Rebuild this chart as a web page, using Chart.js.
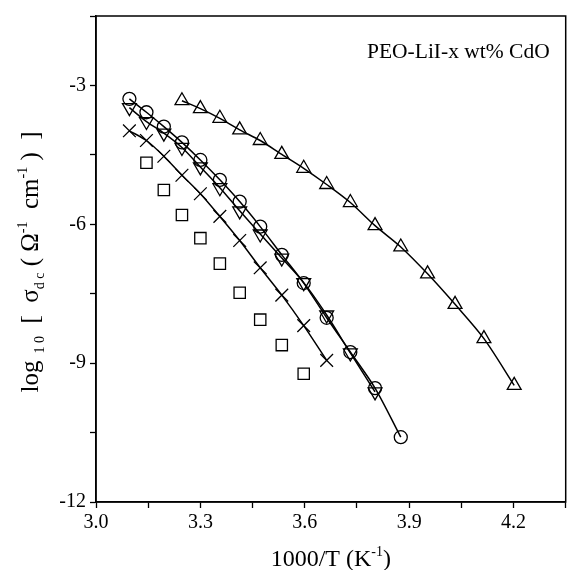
<!DOCTYPE html>
<html><head><meta charset="utf-8">
<script src="https://cdn.jsdelivr.net/npm/chart.js@4.4.0/dist/chart.umd.min.js"></script>
<style>html,body{margin:0;padding:0;background:#fff;}</style>
</head><body>
<canvas id="c" width="576" height="570" style="width:576px;height:570px;display:block"></canvas>
<script>
// ---- data (1000/T in K^-1, log10 sigma_dc) ----
const circleX = [3.096,3.145,3.195,3.247,3.300,3.356,3.413,3.472,3.534,3.597,3.663,3.731,3.802,3.876];
const circleY = [-3.29,-3.58,-3.89,-4.23,-4.61,-5.04,-5.51,-6.05,-6.66,-7.27,-8.02,-8.76,-9.54,-10.60];
const downX = [3.096,3.145,3.195,3.247,3.300,3.356,3.413,3.472,3.534,3.597,3.663,3.731,3.802];
const downY = [-3.48,-3.78,-4.03,-4.34,-4.76,-5.21,-5.71,-6.21,-6.73,-7.26,-7.96,-8.78,-9.62];
const upX = [3.247,3.300,3.356,3.413,3.472,3.534,3.597,3.663,3.731,3.802,3.876,3.953,4.032,4.115,4.202];
const upY = [-3.33,-3.50,-3.71,-3.96,-4.19,-4.49,-4.79,-5.14,-5.53,-6.03,-6.49,-7.07,-7.73,-8.47,-9.48];
const crossX = [3.096,3.145,3.195,3.247,3.300,3.356,3.413,3.472,3.534,3.597,3.663];
const crossY = [-3.98,-4.19,-4.53,-4.94,-5.34,-5.83,-6.35,-6.94,-7.53,-8.19,-8.94];
const squareX = [3.145,3.195,3.247,3.300,3.356,3.413,3.472,3.534,3.597];
const squareY = [-4.67,-5.26,-5.80,-6.30,-6.85,-7.48,-8.06,-8.61,-9.23];

const xTickValues = [3.0,3.15,3.3,3.45,3.6,3.75,3.9,4.05,4.2,4.35];
const xTickLabels = ['3.0','','3.3','','3.6','','3.9','','4.2',''];
const yTickValues = [-12,-10.5,-9,-7.5,-6,-4.5,-3,-1.5];
const yTickLabels = ['-12','','-9','','-6','','-3',''];
const annotation = 'PEO-LiI-x wt% CdO';

const SERIF = '"Liberation Serif", "DejaVu Serif", serif';
const pts = (xs, ys) => xs.map((x, i) => ({x: x, y: ys[i]}));

function ds(xs, ys, style, r, line, rot) {
  return {
    data: pts(xs, ys), showLine: line, pointStyle: style, pointRadius: r,
    pointRotation: rot || 0, borderColor: '#000', backgroundColor: 'rgba(0,0,0,0)',
    pointBorderColor: '#000', pointBackgroundColor: 'rgba(0,0,0,0)',
    pointBorderWidth: 1.3, borderWidth: 1.5, tension: 0.3, fill: false
  };
}

function drawRich(ctx, segs, x, y) {
  let total = 0;
  segs.forEach(s => { ctx.font = s.size + 'px ' + SERIF; total += ctx.measureText(s.t).width; });
  let cx = x - total / 2;
  segs.forEach(s => {
    ctx.font = s.size + 'px ' + SERIF;
    ctx.fillText(s.t, cx, y + (s.dy || 0));
    cx += ctx.measureText(s.t).width;
  });
}

const decor = {
  id: 'decor',
  afterDraw(chart) {
    const ctx = chart.ctx, a = chart.chartArea;
    ctx.save();
    ctx.strokeStyle = '#000'; ctx.lineWidth = 1.5;
    ctx.strokeRect(a.left, a.top, a.right - a.left, a.bottom - a.top);
    ctx.fillStyle = '#000'; ctx.textBaseline = 'alphabetic';
    // annotation
    ctx.font = '21.5px ' + SERIF; ctx.textAlign = 'right';
    ctx.fillText(annotation, a.right - 16, a.top + 42);
    ctx.textAlign = 'left';
    // x title
    drawRich(ctx, [
      {t: '1000/T (K', size: 24}, {t: '-1', size: 14, dy: -10}, {t: ')', size: 24}
    ], (a.left + a.right) / 2, 566);
    // y title
    ctx.translate(38, 262);
    ctx.rotate(-Math.PI / 2);
    drawRich(ctx, [
      {t: 'log', size: 25}, {t: '  1 0', size: 14, dy: 6}, {t: '  [  σ', size: 25},
      {t: 'd c', size: 14, dy: 6}, {t: ' ( Ω', size: 25}, {t: '-1', size: 14, dy: -11},
      {t: '  cm', size: 25}, {t: '-1', size: 14, dy: -11}, {t: ' )  ]', size: 25}
    ], 0, 0);
    ctx.restore();
  }
};

new Chart(document.getElementById('c'), {
  type: 'scatter',
  data: { datasets: [
    ds(circleX, circleY, 'circle', 6.5, true),
    ds(downX, downY, 'triangle', 8, true, 180),
    ds(upX, upY, 'triangle', 8, true),
    ds(crossX, crossY, 'crossRot', 9, true),
    ds(squareX, squareY, 'rect', 8, false)
  ]},
  options: {
    responsive: false, animation: false, devicePixelRatio: 1,
    layout: { padding: { top: 10, right: 3, left: 0, bottom: 0 } },
    plugins: { legend: { display: false }, tooltip: { enabled: false } },
    scales: {
      x: {
        type: 'linear', min: 3.0, max: 4.35,
        afterBuildTicks: s => { s.ticks = xTickValues.map(v => ({value: v})); },
        afterFit: s => { s.height = 68; },
        ticks: { autoSkip: false, maxRotation: 0, padding: 3, color: '#000',
          font: { family: SERIF, size: 20 },
          callback: (v, i) => xTickLabels[i] },
        grid: { drawOnChartArea: false, drawTicks: true, tickLength: 6, tickColor: '#000', tickWidth: 1.3 },
        border: { display: true, color: '#000', width: 1.5 }
      },
      y: {
        type: 'linear', min: -12, max: -1.5,
        afterBuildTicks: s => { s.ticks = yTickValues.map(v => ({value: v})); },
        afterFit: s => { s.width = 96; },
        ticks: { autoSkip: false, padding: 4, color: '#000',
          font: { family: SERIF, size: 20 },
          callback: (v, i) => yTickLabels[i] },
        grid: { drawOnChartArea: false, drawTicks: true, tickLength: 6, tickColor: '#000', tickWidth: 1.3 },
        border: { display: true, color: '#000', width: 1.5 }
      }
    }
  },
  plugins: [decor]
});
</script>
</body></html>
